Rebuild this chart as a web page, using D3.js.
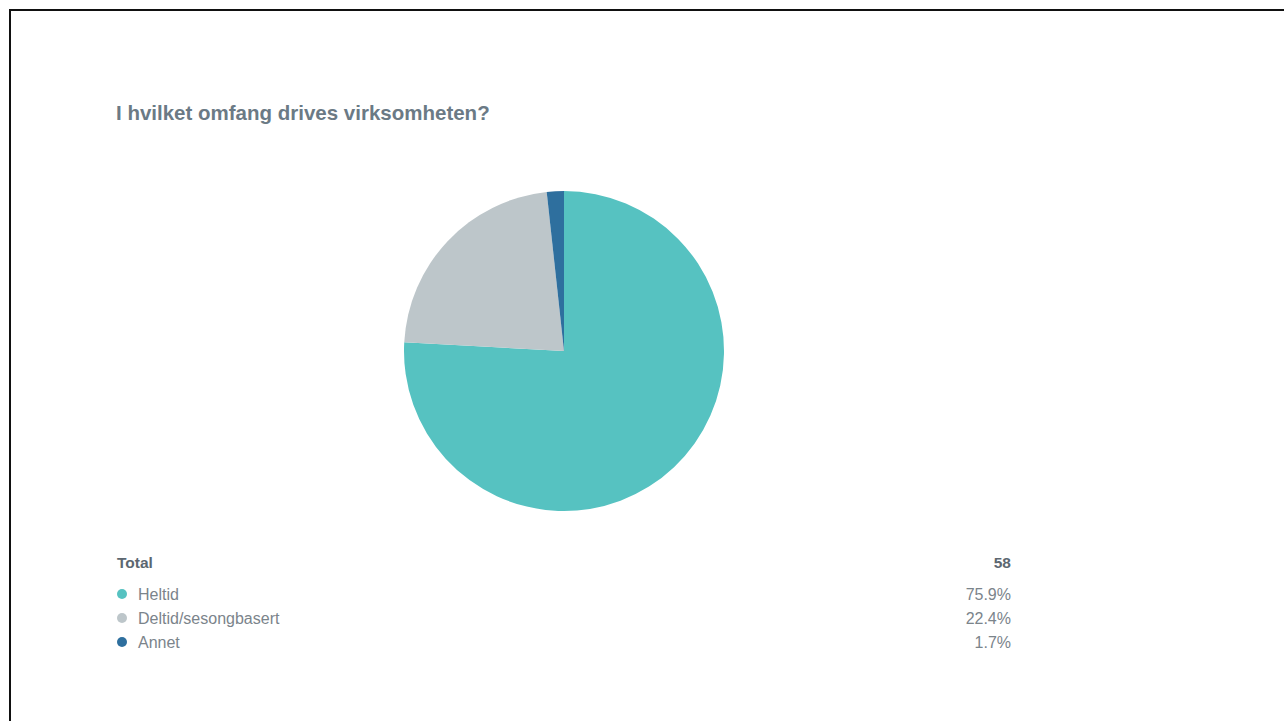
<!DOCTYPE html>
<html>
<head>
<meta charset="utf-8">
<script src="https://cdn.jsdelivr.net/npm/d3@7/dist/d3.min.js"></script>
<style>
  html, body { margin: 0; padding: 0; background: #fff; }
  svg { display: block; }
  text { font-family: "Liberation Sans", Arial, sans-serif; }
</style>
</head>
<body>
<svg id="chart" width="1284" height="721"></svg>
<script>
const title = "I hvilket omfang drives virksomheten?";
const categories = ["Heltid", "Deltid/sesongbasert", "Annet"];
const counts = [44, 13, 1];
const percentLabels = ["75.9%", "22.4%", "1.7%"];
const colors = ["#56c2c1", "#bdc6ca", "#2e6f9e"];
const totalLabel = "Total";

const svg = d3.select("#chart");

// frame
svg.append("rect").attr("x", 10).attr("y", 10).attr("width", 1282).attr("height", 720)
  .attr("fill", "#fff").attr("stroke", "#111").attr("stroke-width", 2);

// title
svg.append("text").attr("x", 116).attr("y", 120)
  .attr("font-size", 20.5).attr("font-weight", "bold").attr("fill", "#6b7a85")
  .text(title);

// pie
const data = categories.map((c, i) => ({ name: c, value: counts[i], color: colors[i] }));
const pie = d3.pie().value(d => d.value).sort(null);
const arc = d3.arc().innerRadius(0).outerRadius(160);
const g = svg.append("g").attr("transform", "translate(564,351)");
g.selectAll("path").data(pie(data)).join("path")
  .attr("d", arc).attr("fill", d => d.data.color);

// legend table
const total = d3.sum(counts);
svg.append("text").attr("x", 117).attr("y", 568)
  .attr("font-size", 15.5).attr("font-weight", "bold").attr("fill", "#5c6770")
  .text(totalLabel);
svg.append("text").attr("x", 1011).attr("y", 568).attr("text-anchor", "end")
  .attr("font-size", 15.5).attr("font-weight", "bold").attr("fill", "#5c6770")
  .text(total);

const y = d3.scaleBand().domain(categories).range([582, 654]);
const rows = svg.selectAll("g.row").data(data).join("g").attr("class", "row")
  .attr("transform", d => `translate(0,${y(d.name) + y.bandwidth() / 2})`);
rows.append("circle").attr("cx", 122).attr("cy", 0).attr("r", 5).attr("fill", d => d.color);
rows.append("text").attr("x", 138).attr("y", 5.5).attr("font-size", 16).attr("fill", "#7b848b")
  .text(d => d.name);
rows.append("text").attr("x", 1011).attr("y", 5.5).attr("text-anchor", "end")
  .attr("font-size", 16).attr("fill", "#7b848b")
  .text((d, i) => percentLabels[i]);
</script>
</body>
</html>
